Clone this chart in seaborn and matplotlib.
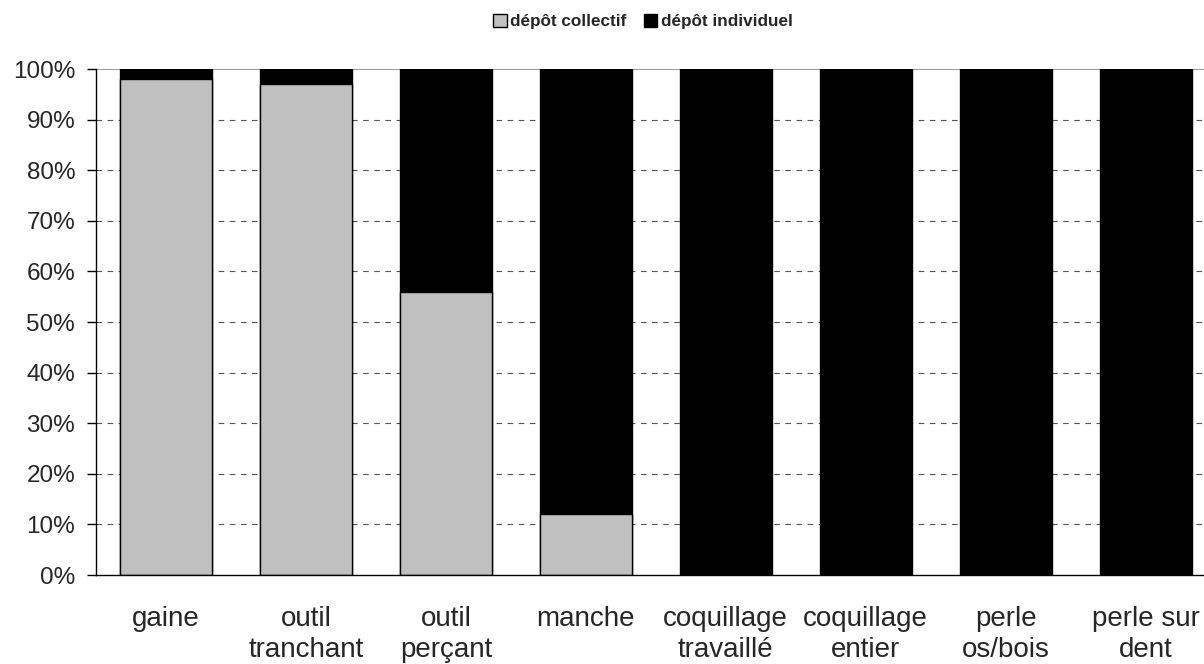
import matplotlib
matplotlib.use("Agg")
import matplotlib.pyplot as plt
from matplotlib.patches import Patch
import seaborn as sns
import pandas as pd
import numpy as np

categories = ["gaine", "outil\ntranchant", "outil\nperçant", "manche",
              "coquillage\ntravaillé", "coquillage\nentier", "perle\nos/bois", "perle sur\ndent"]
collectif = [98, 97, 56, 12, 0, 0, 0, 0]
individuel = [2, 3, 44, 88, 100, 100, 100, 100]

df = pd.DataFrame({"cat": categories, "collectif": collectif, "individuel": individuel})
df["total"] = df["collectif"] + df["individuel"]

sns.set_style("white")
plt.rcParams["font.family"] = ["Liberation Sans", "DejaVu Sans"]

fig = plt.figure(figsize=(12.04, 6.64), dpi=100)
ax = fig.add_axes([0.0797, 0.134, 0.930, 0.762])

# barre totale en noir, puis la part collective en gris par-dessus
sns.barplot(data=df, x="cat", y="total", color="black", width=0.66,
            edgecolor="black", linewidth=1, saturation=1, ax=ax)
sns.barplot(data=df, x="cat", y="collectif", color="#c0c0c0", width=0.66,
            edgecolor="black", linewidth=1, saturation=1, ax=ax)

ax.set_xlim(-0.5, 7.5)
ax.set_ylim(0, 100)
ax.set_yticks(np.arange(0, 101, 10))
ax.set_yticklabels([f"{v}%" for v in range(0, 101, 10)], fontsize=17.5)
for v in range(10, 100, 10):
    ax.axhline(v, color="#555555", linestyle=(0, (5, 5)), linewidth=0.8, zorder=0)
ax.axhline(100, color="#888888", linewidth=1.2, zorder=0)

ax.set_xticks(range(len(categories)))
ax.set_xticklabels(categories, fontsize=20, linespacing=1.25)
ax.tick_params(axis="x", which="major", length=0, pad=22)
ax.set_xticks(np.arange(-0.5, 8, 1), minor=True)
ax.tick_params(axis="x", which="minor", length=6.5, width=1, color="black", direction="out")
ax.tick_params(axis="y", length=6.5, width=1, color="black", direction="out", pad=8.5, left=True)
ax.set_xlabel("")
ax.set_ylabel("")

for side in ["top", "right"]:
    ax.spines[side].set_visible(False)
ax.spines["left"].set_color("black")
ax.spines["bottom"].set_color("black")
ax.spines["left"].set_linewidth(1)
ax.spines["bottom"].set_linewidth(1)

handles = [Patch(facecolor="#c0c0c0", edgecolor="black", label="dépôt collectif"),
           Patch(facecolor="black", edgecolor="black", label="dépôt individuel")]
fig.legend(handles=handles, loc="center", bbox_to_anchor=(0.534, 0.968), ncol=2,
           frameon=False, prop={"weight": "bold", "size": 12.3},
           handlelength=0.8, handleheight=0.8, handletextpad=0.2, columnspacing=1.0)

fig.savefig("out.png", dpi=100)
